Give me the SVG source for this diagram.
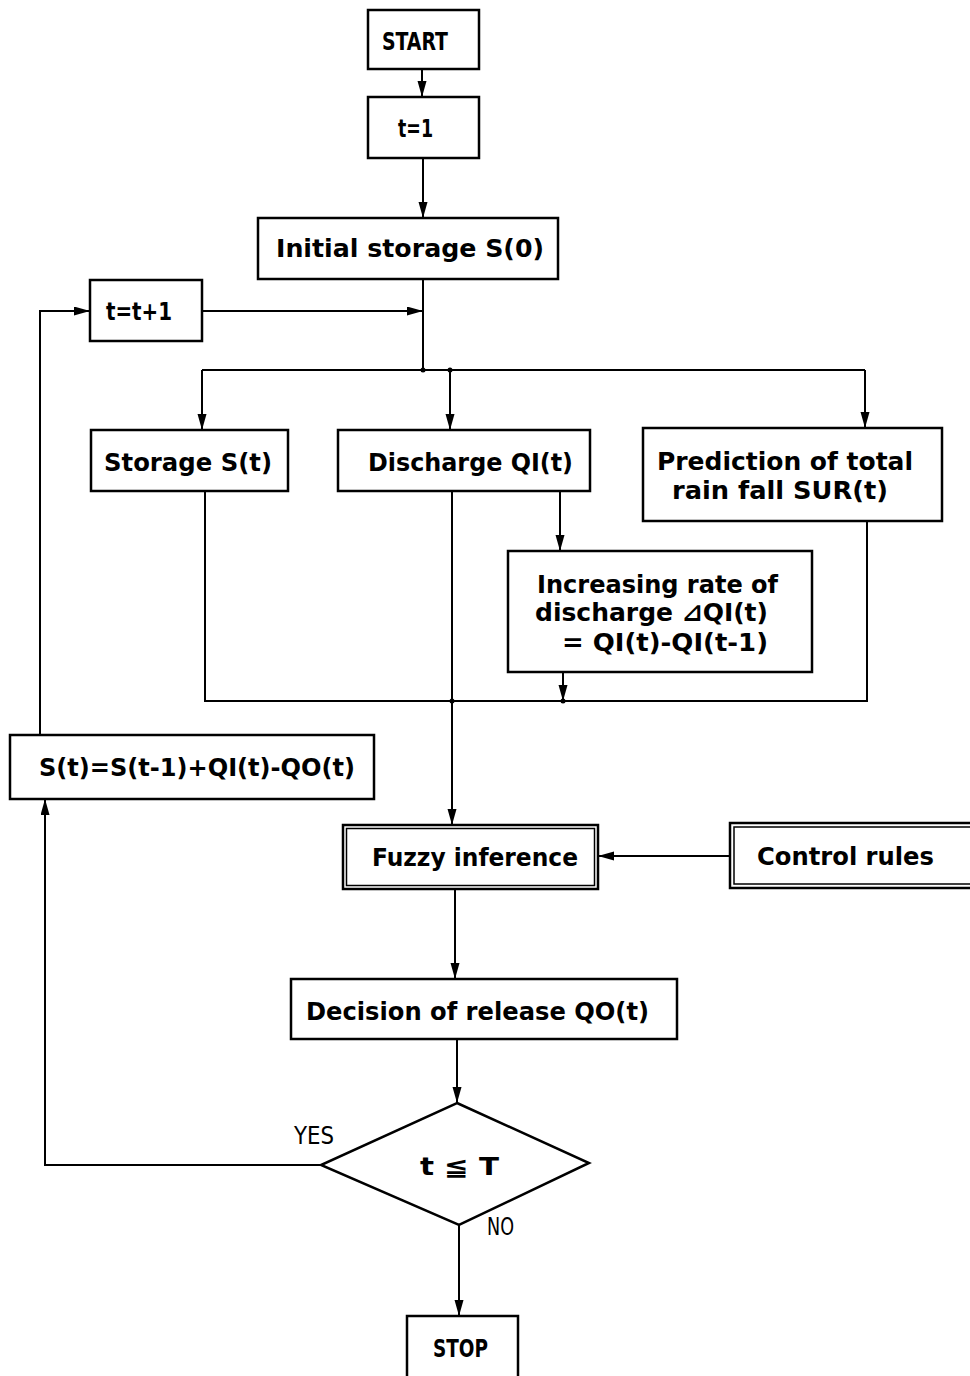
<svg xmlns="http://www.w3.org/2000/svg" width="970" height="1376" viewBox="0 0 970 1376">
<style>
.box{fill:#fff;stroke:#000;stroke-width:2.5}
.thin{fill:none;stroke:#000;stroke-width:1.5}
.ln{fill:none;stroke:#000;stroke-width:2}
text{font-family:"DejaVu Sans Condensed","DejaVu Sans","Noto Sans CJK JP",sans-serif;font-weight:bold;font-size:25px;fill:#000}
.lbl{font-weight:normal}
</style>
<defs>
<marker id="ah" markerUnits="userSpaceOnUse" markerWidth="18" markerHeight="10" refX="16" refY="4.5" orient="auto">
<path d="M0,0 L16,4.5 L0,9 z" fill="#000"/>
</marker>
</defs>
<rect width="970" height="1376" fill="#fff"/>
<g id="connectors">
<line class="ln" x1="422" y1="69" x2="422" y2="97" marker-end="url(#ah)"/>
<line class="ln" x1="423" y1="158" x2="423" y2="218" marker-end="url(#ah)"/>
<polyline class="ln" points="423,279 423,370"/>
<line class="ln" x1="202" y1="311" x2="423" y2="311" marker-end="url(#ah)"/>
<polyline class="ln" points="40,735 40,311 90,311" marker-end="url(#ah)"/>
<polyline class="ln" points="202,370 865,370"/>
<line class="ln" x1="202" y1="370" x2="202" y2="430" marker-end="url(#ah)"/>
<line class="ln" x1="450" y1="370" x2="450" y2="430" marker-end="url(#ah)"/>
<line class="ln" x1="865" y1="370" x2="865" y2="428" marker-end="url(#ah)"/>
<line class="ln" x1="560" y1="491" x2="560" y2="551" marker-end="url(#ah)"/>
<polyline class="ln" points="205,491 205,701 867,701 867,521"/>
<line class="ln" x1="563" y1="672" x2="563" y2="701" marker-end="url(#ah)"/>
<line class="ln" x1="452" y1="491" x2="452" y2="825" marker-end="url(#ah)"/>
<line class="ln" x1="730" y1="856" x2="598" y2="856" marker-end="url(#ah)"/>
<line class="ln" x1="455" y1="889" x2="455" y2="979" marker-end="url(#ah)"/>
<line class="ln" x1="457" y1="1039" x2="457" y2="1103" marker-end="url(#ah)"/>
<line class="ln" x1="459" y1="1225" x2="459" y2="1316" marker-end="url(#ah)"/>
<polyline class="ln" points="321,1165 45,1165 45,799" marker-end="url(#ah)"/>
<circle cx="423" cy="370" r="2.5"/>
<circle cx="450" cy="370" r="2.5"/>
<circle cx="452" cy="701" r="2.5"/>
<circle cx="563" cy="701" r="2.5"/>
</g>
<g id="start">
<rect class="box" x="368" y="10" width="111" height="59"/>
<text x="382" y="50" textLength="66" lengthAdjust="spacingAndGlyphs">START</text>
</g>
<g id="t1">
<rect class="box" x="368" y="97" width="111" height="61"/>
<text x="398" y="137" textLength="35" lengthAdjust="spacingAndGlyphs">t=1</text>
</g>
<g id="initial">
<rect class="box" x="258" y="218" width="300" height="61"/>
<text x="276" y="257" textLength="268" lengthAdjust="spacingAndGlyphs">Initial storage S(0)</text>
</g>
<g id="tinc">
<rect class="box" x="90" y="280" width="112" height="61"/>
<text x="106" y="320" textLength="66" lengthAdjust="spacingAndGlyphs">t=t+1</text>
</g>
<g id="storage">
<rect class="box" x="91" y="430" width="197" height="61"/>
<text x="104" y="471" textLength="168" lengthAdjust="spacingAndGlyphs">Storage S(t)</text>
</g>
<g id="discharge">
<rect class="box" x="338" y="430" width="252" height="61"/>
<text x="368" y="471" textLength="205" lengthAdjust="spacingAndGlyphs">Discharge QI(t)</text>
</g>
<g id="prediction">
<rect class="box" x="643" y="428" width="299" height="93"/>
<text x="657" y="470" textLength="256" lengthAdjust="spacingAndGlyphs">Prediction of total</text>
<text x="672" y="499" textLength="216" lengthAdjust="spacingAndGlyphs">rain fall SUR(t)</text>
</g>
<g id="increasing">
<rect class="box" x="508" y="551" width="304" height="121"/>
<text x="537" y="593" textLength="241" lengthAdjust="spacingAndGlyphs">Increasing rate of</text>
<text x="535" y="621" textLength="233" lengthAdjust="spacingAndGlyphs">discharge ⊿QI(t)</text>
<text x="562" y="651" textLength="206" lengthAdjust="spacingAndGlyphs">= QI(t)-QI(t-1)</text>
</g>
<g id="update">
<rect class="box" x="10" y="735" width="364" height="64"/>
<text x="39" y="776" textLength="316" lengthAdjust="spacingAndGlyphs">S(t)=S(t-1)+QI(t)-QO(t)</text>
</g>
<g id="fuzzy">
<rect class="box" x="343" y="825" width="255" height="64"/>
<rect class="thin" x="346.5" y="828.5" width="248" height="57"/>
<text x="372" y="866" textLength="206" lengthAdjust="spacingAndGlyphs">Fuzzy inference</text>
</g>
<g id="control">
<rect class="box" x="730" y="823" width="250" height="65"/>
<rect class="thin" x="734" y="827" width="246" height="57"/>
<text x="757" y="865" textLength="177" lengthAdjust="spacingAndGlyphs">Control rules</text>
</g>
<g id="decision">
<rect class="box" x="291" y="979" width="386" height="60"/>
<text x="306" y="1020" textLength="343" lengthAdjust="spacingAndGlyphs">Decision of release QO(t)</text>
</g>
<g id="check">
<polygon class="box" points="457,1103 589,1163 459,1225 321,1165"/>
<text x="420" y="1175" textLength="79" lengthAdjust="spacingAndGlyphs">t ≦ T</text>
<text class="lbl" x="294" y="1144" textLength="40" lengthAdjust="spacingAndGlyphs">YES</text>
<text class="lbl" x="487" y="1235" textLength="27" lengthAdjust="spacingAndGlyphs">NO</text>
</g>
<g id="stop">
<rect class="box" x="407" y="1316" width="111" height="70"/>
<text x="433" y="1357" textLength="55" lengthAdjust="spacingAndGlyphs">STOP</text>
</g>
</svg>
